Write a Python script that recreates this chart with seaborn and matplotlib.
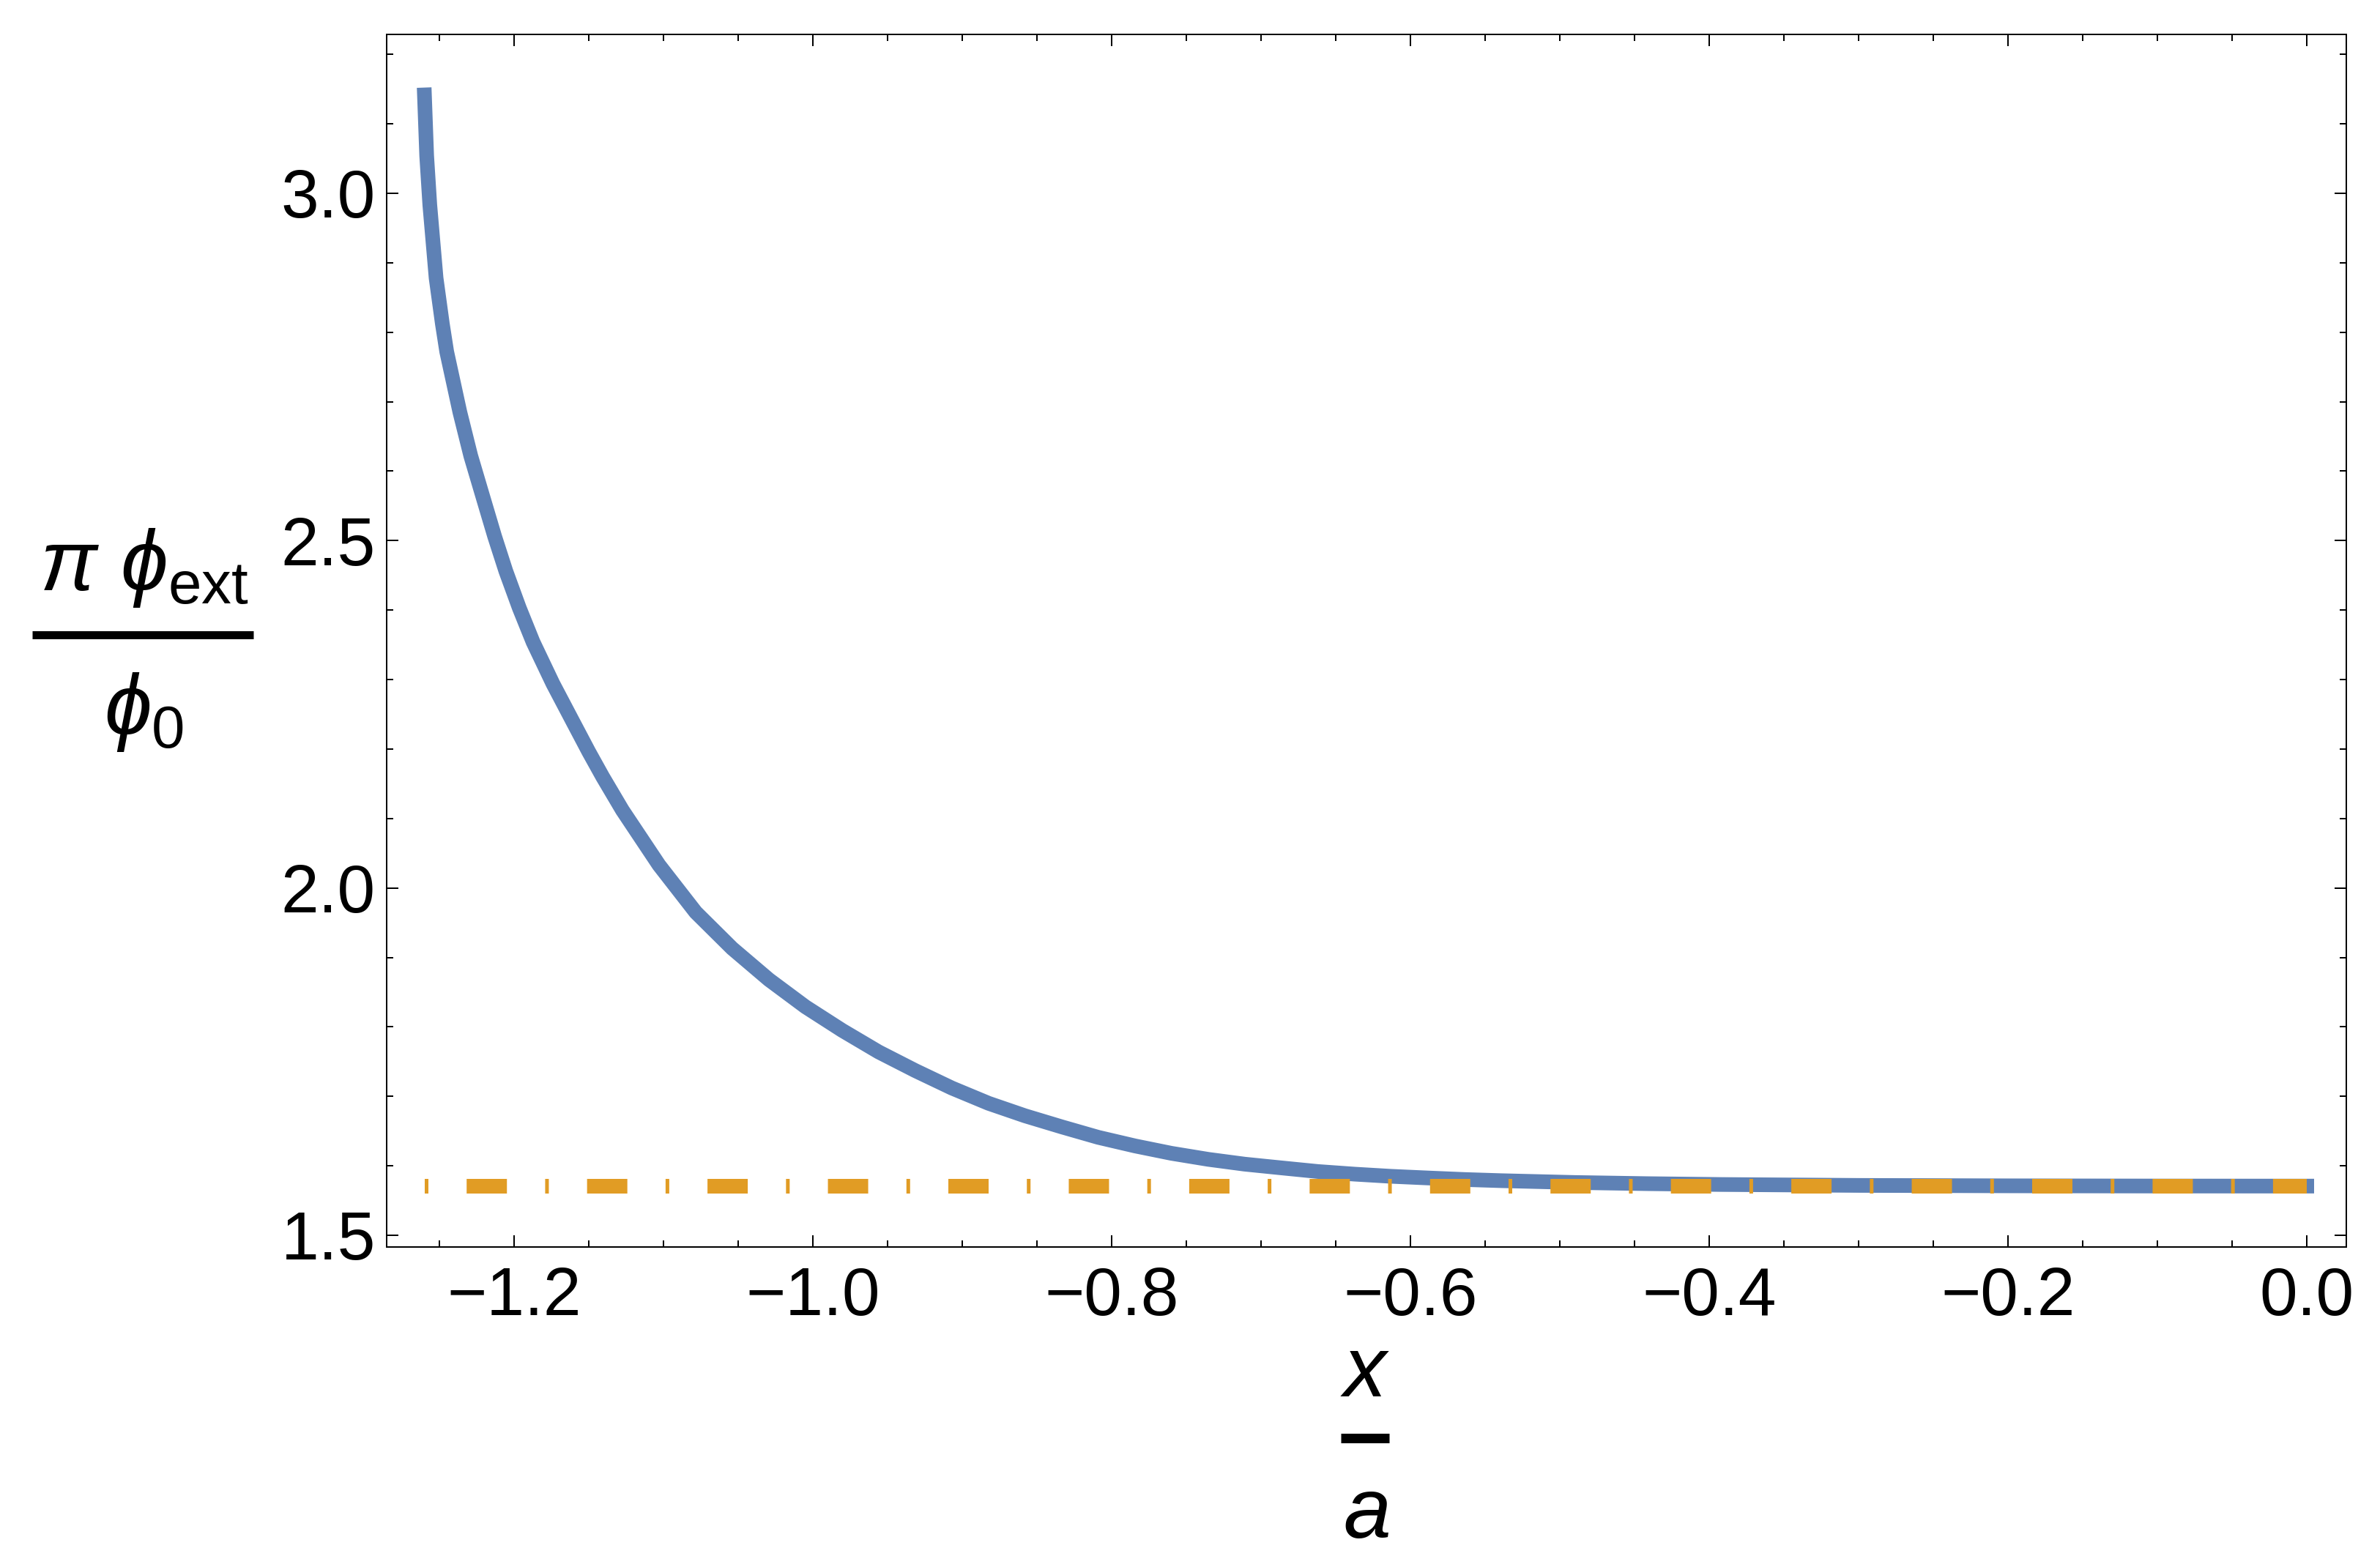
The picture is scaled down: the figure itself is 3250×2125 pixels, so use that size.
import numpy as np
import pandas as pd
import matplotlib
matplotlib.use('Agg')
import matplotlib.pyplot as plt
from matplotlib.lines import Line2D
from matplotlib.ticker import MultipleLocator, FuncFormatter
import seaborn as sns

# values
x_over_a = [-1.2600, -1.2585, -1.2564, -1.2522, -1.2480, -1.2451, -1.2363, -1.2290,
            -1.2206, -1.2130, -1.2055, -1.1965, -1.1873, -1.1740, -1.1603, -1.1500,
            -1.1407, -1.1275, -1.1030, -1.0784, -1.0540, -1.0294, -1.0050, -0.9804,
            -0.9560, -0.9314, -0.9070, -0.8824, -0.8580, -0.8333, -0.8090, -0.7843,
            -0.7600, -0.7353, -0.7110, -0.6863, -0.6620, -0.6373, -0.6130, -0.5882,
            -0.5640, -0.5392, -0.4902, -0.4412, -0.3922, -0.3000, -0.2000, -0.1000,
            0.0]
phi_ratio = [3.1416, 3.054, 2.983, 2.878, 2.812, 2.772, 2.685, 2.622,
             2.561, 2.506, 2.456, 2.403, 2.354, 2.294, 2.238, 2.196,
             2.160, 2.112, 2.033, 1.965, 1.913, 1.868, 1.829, 1.795,
             1.764, 1.737, 1.712, 1.690, 1.672, 1.656, 1.641, 1.6286,
             1.618, 1.6093, 1.6024, 1.597, 1.5918, 1.5880, 1.5849, 1.5825,
             1.5803, 1.5786, 1.5760, 1.5743, 1.5731, 1.5718, 1.5712, 1.5709,
             1.5708]

asym_x = [-1.26, 0.0]
asym_y = [1.5708, 1.5708]

x_ticks = [-1.2, -1.0, -0.8, -0.6, -0.4, -0.2, 0.0]
y_ticks = [1.5, 2.0, 2.5, 3.0]

BLUE = '#5E81B5'
ORANGE = '#E19C24'

W, H = 3250, 2125


def fx(px):
    return px / W


def fy(py):
    return 1 - py / H


sns.set_style('ticks')
plt.rcParams['font.family'] = ['Liberation Sans', 'DejaVu Sans']
plt.rcParams['mathtext.fontset'] = 'custom'
plt.rcParams['mathtext.it'] = 'Liberation Sans:italic'
plt.rcParams['mathtext.rm'] = 'Liberation Sans'
plt.rcParams['mathtext.bf'] = 'Liberation Sans:bold'
plt.rcParams['lines.scale_dashes'] = False
plt.rcParams['text.color'] = 'black'
plt.rcParams['xtick.color'] = 'black'
plt.rcParams['ytick.color'] = 'black'
plt.rcParams['axes.edgecolor'] = 'black'

fig = plt.figure(figsize=(W / 100, H / 100), dpi=100)
ax = fig.add_axes([fx(528), fy(1703), fx(3204) - fx(528), fy(47) - fy(1703)])

curve = pd.DataFrame({'x': x_over_a, 'y': phi_ratio})
sns.lineplot(data=curve, x='x', y='y', ax=ax, color=BLUE, linewidth=14.4,
             solid_capstyle='projecting', solid_joinstyle='round')
sns.lineplot(x=asym_x, y=asym_y, ax=ax, color=ORANGE, linewidth=14.4,
             linestyle=(0, (3.6, 37.6, 39.6, 37.6)), dash_capstyle='butt')

ax.set_xlim(-1.28529, 0.02647)
ax.set_ylim(1.48313, 3.22867)
ax.set_xticks(x_ticks)
ax.set_yticks(y_ticks)
ax.xaxis.set_minor_locator(MultipleLocator(0.05))
ax.yaxis.set_minor_locator(MultipleLocator(0.1))
fmt = FuncFormatter(lambda v, p: f'{v:.1f}'.replace('-', '\u2212') if abs(v) > 1e-9 else '0.0')
ax.xaxis.set_major_formatter(fmt)
ax.yaxis.set_major_formatter(fmt)
ax.set_xlabel('')
ax.set_ylabel('')

for sp in ax.spines.values():
    sp.set_visible(True)
    sp.set_linewidth(1.44)
    sp.set_color('black')
ax.tick_params(which='both', direction='in', top=True, right=True, width=1.44,
               color='black', labelcolor='black')
ax.tick_params(which='major', length=11.5, labelsize=67)
ax.tick_params(axis='x', which='major', pad=19)
ax.tick_params(axis='y', which='major', pad=10.8)
ax.tick_params(which='minor', length=6.8)

# y label as a stacked fraction
fig.text(fx(197), fy(806), r'$\pi\ \phi_{\mathrm{ext}}$', ha='center', va='baseline', fontsize=84)
fig.add_artist(Line2D([fx(44), fx(346)], [fy(866.5), fy(866.5)], transform=fig.transFigure,
                      color='black', linewidth=7.9, solid_capstyle='butt'))
fig.text(fx(197), fy(1003), r'$\phi_0$', ha='center', va='baseline', fontsize=84)

# x label as a stacked fraction
fig.text(fx(1864), fy(1907), r'$x$', ha='center', va='baseline', fontsize=84)
fig.add_artist(Line2D([fx(1831), fx(1897)], [fy(1963.5), fy(1963.5)], transform=fig.transFigure,
                      color='black', linewidth=9.4, solid_capstyle='butt'))
fig.text(fx(1865), fy(2100), r'$a$', ha='center', va='baseline', fontsize=84)

fig.savefig('out.png', dpi=100, facecolor='white')
